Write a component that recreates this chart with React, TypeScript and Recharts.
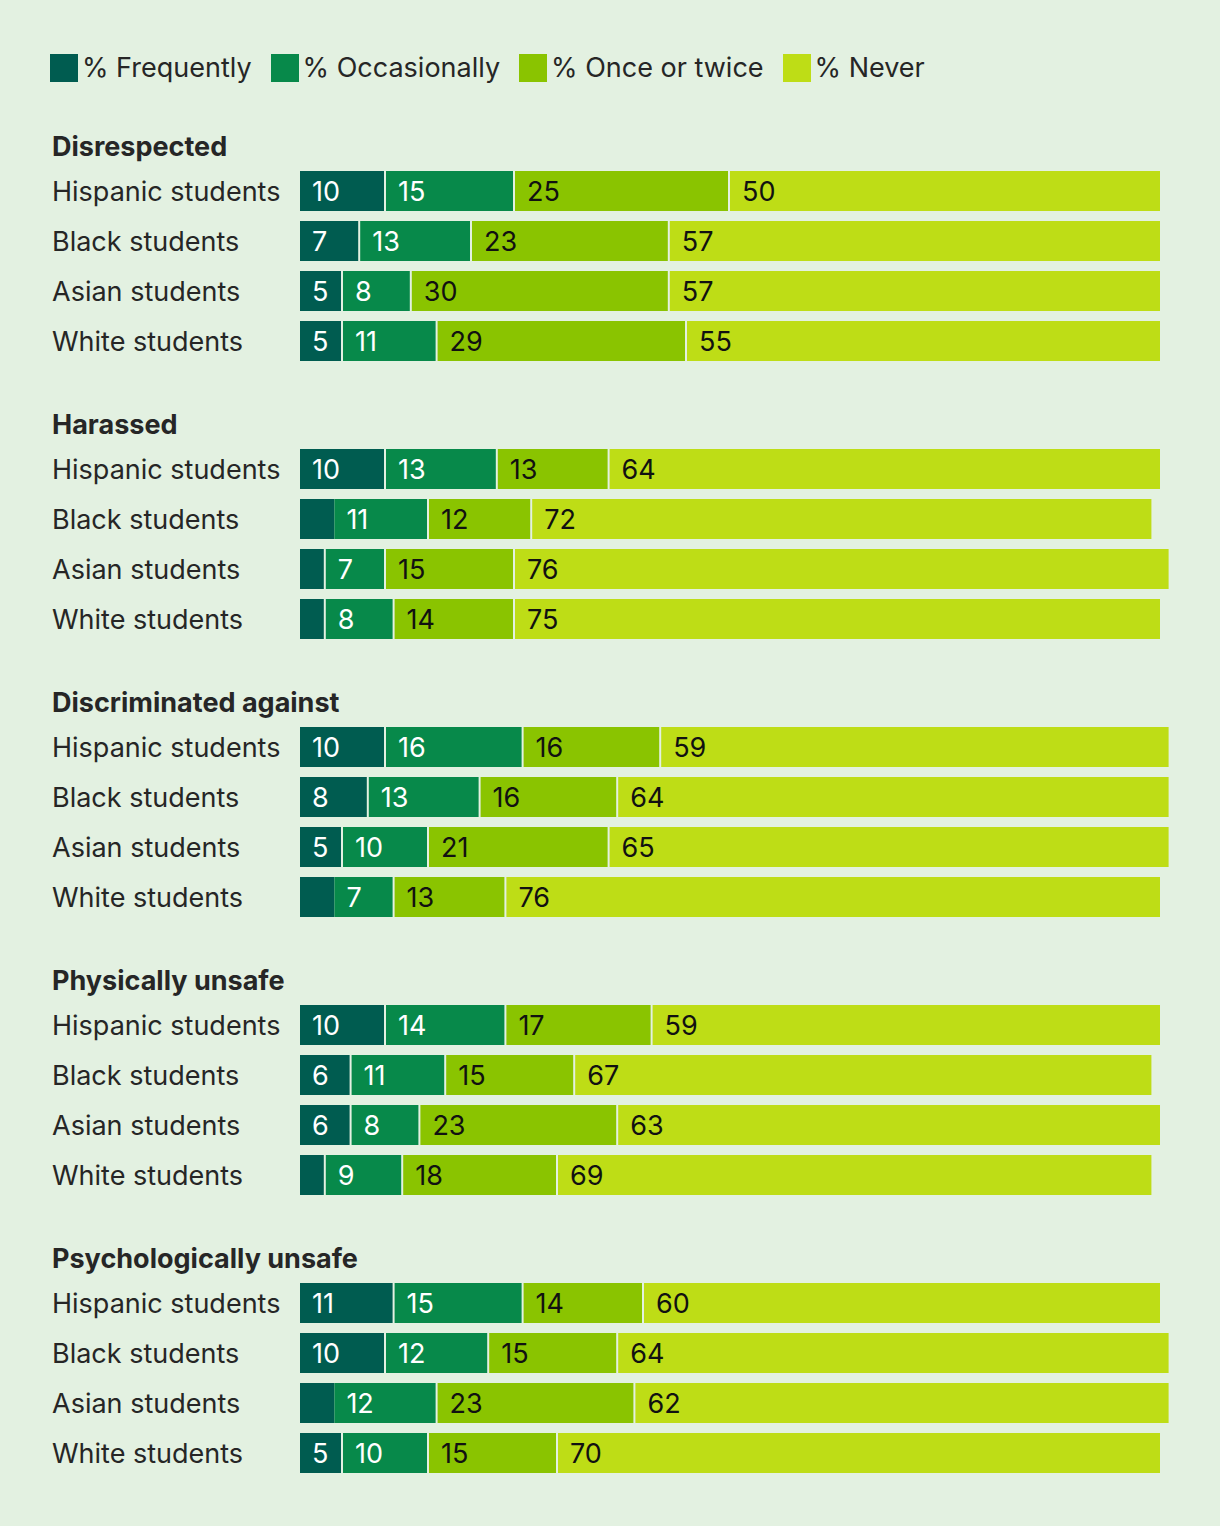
import React from "react";
import { BarChart, Bar, XAxis, YAxis, LabelList } from "recharts";

const groups = ["Disrespected", "Harassed", "Discriminated against", "Physically unsafe", "Psychologically unsafe"];
const rowLabels = ["Hispanic students", "Black students", "Asian students", "White students"];
const seriesNames = ["% Frequently", "% Occasionally", "% Once or twice", "% Never"];
const seriesKeys = ["frequently", "occasionally", "once", "never"];
const colors = ["#005C50", "#07894A", "#8AC400", "#BEDD16"];
const labelColors = ["#ffffff", "#ffffff", "#111111", "#111111"];

// values per group, rows = Hispanic, Black, Asian, White
const frequently = [
  [10, 7, 5, 5],
  [10, 4, 3, 3],
  [10, 8, 5, 4],
  [10, 6, 6, 3],
  [11, 10, 4, 5],
];
const occasionally = [
  [15, 13, 8, 11],
  [13, 11, 7, 8],
  [16, 13, 10, 7],
  [14, 11, 8, 9],
  [15, 12, 12, 10],
];
const onceOrTwice = [
  [25, 23, 30, 29],
  [13, 12, 15, 14],
  [16, 16, 21, 13],
  [17, 15, 23, 18],
  [14, 15, 23, 15],
];
const never = [
  [50, 57, 57, 55],
  [64, 72, 76, 75],
  [59, 64, 65, 76],
  [59, 67, 63, 69],
  [60, 64, 62, 70],
];

const BG = "#E3F1E1";
const TEXT = "#262626";
const FONT = "Inter, 'Open Sans', sans-serif";
const FS = 27;

const buildData = (g: number) =>
  rowLabels.map((name, r) => ({
    name,
    frequently: frequently[g][r],
    occasionally: occasionally[g][r],
    once: onceOrTwice[g][r],
    never: never[g][r],
  }));

const makeShape = (idx: number, isLast: boolean) => (props: any) => {
  const { x, y, width, height, fill, value } = props;
  const v = Array.isArray(value) ? value[1] - value[0] : value;
  const noGap = isLast || (idx === 0 && v === 4);
  const w = noGap ? width : Math.max(width - 2, 0);
  return <rect x={x} y={y} width={w} height={height} fill={fill} />;
};

const makeLabel = (color: string) => (props: any) => {
  const { x, y, height, value } = props;
  if (value == null || value < 5) return null;
  return (
    <text
      x={x + 12}
      y={y + height / 2}
      dominantBaseline="central"
      fill={color}
      fontSize={FS}
      fontFamily={FONT}
    >
      {value}
    </text>
  );
};

const YTick = (props: any) => {
  const { y, payload } = props;
  return (
    <text x={52} y={y} dominantBaseline="central" fill={TEXT} fontSize={FS} fontFamily={FONT}>
      {payload.value}
    </text>
  );
};

const BAND_TOPS = [166, 444, 722, 1000, 1278];

export default function App() {
  return (
    <div
      style={{
        position: "absolute",
        left: 0,
        top: 0,
        width: 1220,
        height: 1526,
        background: BG,
        fontFamily: FONT,
        color: TEXT,
        overflow: "hidden",
      }}
    >
      <div style={{ position: "absolute", left: 50, top: 50, display: "flex", alignItems: "center" }}>
        {seriesNames.map((s, i) => (
          <div key={s} style={{ display: "flex", alignItems: "center", marginRight: 19 }}>
            <div style={{ width: 28, height: 28, background: colors[i], marginRight: 4 }} />
            <span style={{ fontSize: FS, lineHeight: "36px" }}>{s}</span>
          </div>
        ))}
      </div>
      {groups.map((g, gi) => (
        <React.Fragment key={g}>
          <div
            style={{
              position: "absolute",
              left: 52,
              top: BAND_TOPS[gi] - 20 - 17,
              height: 36,
              lineHeight: "36px",
              fontSize: FS,
              fontWeight: 700,
            }}
          >
            {g}
          </div>
          <div style={{ position: "absolute", left: 0, top: BAND_TOPS[gi] }}>
            <BarChart
              width={1220}
              height={200}
              data={buildData(gi)}
              layout="vertical"
              margin={{ top: 0, right: 51.4, bottom: 0, left: 0 }}
              barCategoryGap={5}
            >
              <XAxis type="number" domain={[0, 101]} hide />
              <YAxis
                type="category"
                dataKey="name"
                width={300}
                axisLine={false}
                tickLine={false}
                tick={<YTick />}
                interval={0}
              />
              {seriesKeys.map((k, i) => (
                <Bar
                  key={k}
                  dataKey={k}
                  stackId="a"
                  fill={colors[i]}
                  barSize={40}
                  isAnimationActive={false}
                  shape={makeShape(i, i === seriesKeys.length - 1)}
                >
                  <LabelList dataKey={k} content={makeLabel(labelColors[i])} />
                </Bar>
              ))}
            </BarChart>
          </div>
        </React.Fragment>
      ))}
    </div>
  );
}
